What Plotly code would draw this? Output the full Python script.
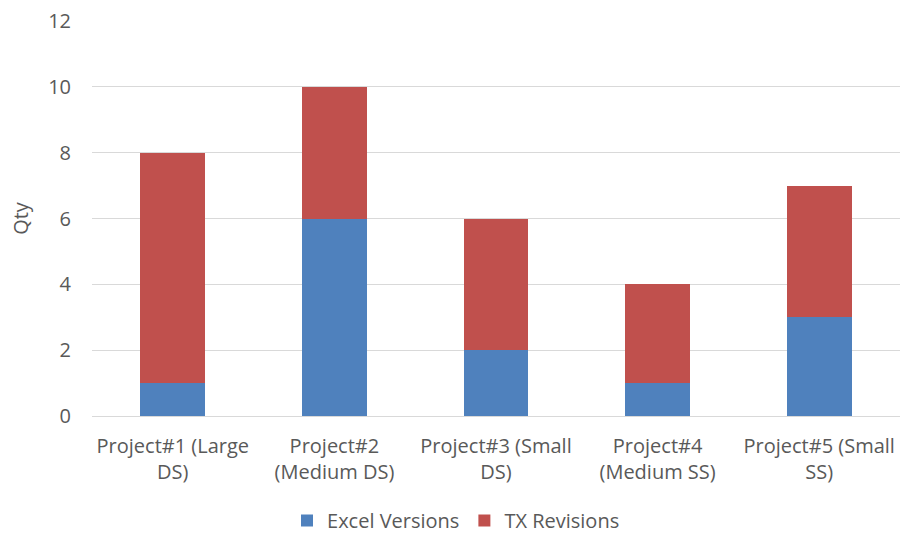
import plotly.graph_objects as go

projects = [
    "Project#1 (Large<br>DS)",
    "Project#2<br>(Medium DS)",
    "Project#3 (Small<br>DS)",
    "Project#4<br>(Medium SS)",
    "Project#5 (Small<br>SS)",
]
excel_versions = [1, 6, 2, 1, 3]
tx_revisions = [7, 4, 4, 3, 4]
y_ticks = [0, 2, 4, 6, 8, 10, 12]

font_family = "Open Sans"
font_size = 20
text_color = "#595959"
grid_color = "#D9D9D9"

fig = go.Figure()
fig.add_trace(go.Bar(
    x=projects, y=excel_versions, name="Excel Versions",
    marker=dict(color="#4F81BD", line=dict(width=0)),
))
fig.add_trace(go.Bar(
    x=projects, y=tx_revisions, name="TX Revisions",
    marker=dict(color="#C0504D", line=dict(width=0)),
))

fig.update_layout(
    barmode="stack",
    bargap=0.6,
    width=903, height=540,
    margin=dict(l=92, r=3, t=21, b=124, autoexpand=False),
    paper_bgcolor="white",
    plot_bgcolor="white",
    font=dict(family=font_family, size=font_size, color=text_color),
    showlegend=True,
    legend=dict(
        orientation="h", x=0.505, xref="container", xanchor="center",
        y=-0.011, yref="container", yanchor="bottom",
        bgcolor="rgba(0,0,0,0)",
        font=dict(size=font_size, color=text_color), traceorder="normal",
        itemwidth=30,
    ),
    xaxis=dict(
        showgrid=False, showline=True, linecolor=grid_color, linewidth=1,
        ticks="", tickfont=dict(size=font_size, color=text_color), tickangle=0,
        ticklabelstandoff=12, automargin=False,
    ),
    yaxis=dict(
        range=[0, 12], tickvals=y_ticks, showgrid=True, gridcolor=grid_color,
        gridwidth=1, zeroline=False, showline=False, ticks="",
        ticklabelstandoff=20, automargin=False,
        tickfont=dict(size=font_size, color=text_color),
        title=dict(text="Qty", font=dict(size=font_size, color=text_color), standoff=14),
    ),
)

fig.write_html("out.html")
